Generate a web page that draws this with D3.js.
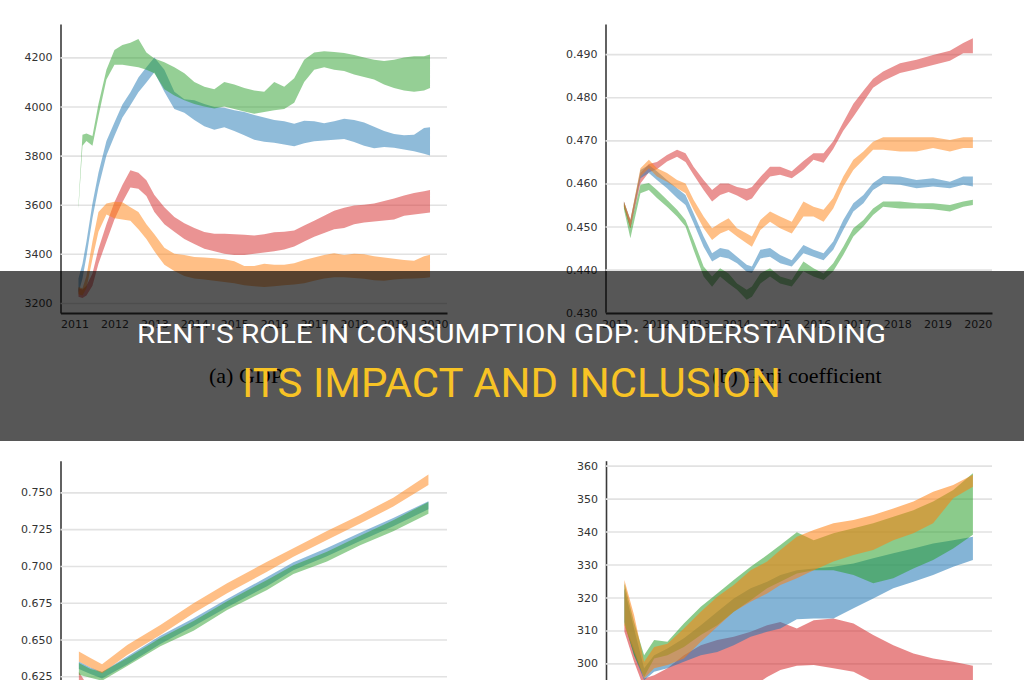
<!DOCTYPE html>
<html lang="en">
<head>
<meta charset="UTF-8">
<title>Rent's role in consumption GDP</title>
<script src="https://d3js.org/d3.v7.min.js"></script>
<style>
  * { margin: 0; padding: 0; box-sizing: border-box; }
  body { width: 1024px; height: 680px; overflow: hidden; background: #fff; }
</style>
</head>
<body>
<div id="chart"></div>
<script>
// ---------- (a) GDP ----------
const yearsA = [2011.1, 2011.2, 2011.3, 2011.45, 2011.6, 2011.8, 2012.0, 2012.2, 2012.4, 2012.6, 2012.8,
  2013.0, 2013.25, 2013.5, 2013.75, 2014.0, 2014.25, 2014.5, 2014.75, 2015.0, 2015.25, 2015.5, 2015.75,
  2016.0, 2016.25, 2016.5, 2016.75, 2017.0, 2017.25, 2017.5, 2017.75, 2018.0, 2018.25, 2018.5, 2018.75,
  2019.0, 2019.25, 2019.5, 2019.75, 2019.9];
const ticksA = [3200, 3400, 3600, 3800, 4000, 4200];
const gdpGreenLo = [3585, 3840, 3860, 3840, 3960, 4110, 4170, 4170, 4165, 4160, 4150, 4135, 4070, 4045, 4025, 4010, 4000, 3992, 4000, 3990, 3980, 3970, 3978, 3985, 3990, 4015, 4100, 4150, 4160, 4150, 4145, 4130, 4120, 4110, 4090, 4075, 4065, 4060, 4065, 4075];
const gdpGreenHi = [3600, 3885, 3890, 3880, 4010, 4150, 4230, 4250, 4260, 4275, 4220, 4195, 4180, 4160, 4135, 4100, 4080, 4070, 4100, 4090, 4075, 4065, 4060, 4100, 4080, 4115, 4190, 4220, 4225, 4222, 4218, 4210, 4200, 4190, 4185, 4190, 4200, 4205, 4205, 4212];
const gdpBlueLo = [3240, 3300, 3390, 3545, 3670, 3800, 3880, 3955, 4005, 4058, 4098, 4140, 4060, 3990, 3975, 3945, 3920, 3905, 3915, 3900, 3883, 3865, 3856, 3852, 3845, 3838, 3850, 3858, 3862, 3865, 3868, 3855, 3840, 3830, 3835, 3832, 3825, 3818, 3808, 3800];
const gdpBlueHi = [3300, 3360, 3450, 3605, 3730, 3860, 3935, 4008, 4058, 4118, 4160, 4200, 4150, 4060, 4030, 4025, 4010, 3998, 3995, 3985, 3978, 3965, 3955, 3945, 3940, 3930, 3942, 3940, 3932, 3940, 3950, 3945, 3935, 3918, 3900, 3888, 3883, 3885, 3912, 3915];
const gdpRedLo = [3225, 3220, 3230, 3270, 3360, 3450, 3540, 3610, 3670, 3665, 3635, 3570, 3520, 3490, 3460, 3440, 3421, 3410, 3400, 3395, 3395, 3400, 3405, 3410, 3418, 3430, 3450, 3470, 3485, 3500, 3505, 3520, 3528, 3532, 3536, 3540, 3555, 3560, 3565, 3568];
const gdpRedHi = [3260, 3255, 3270, 3320, 3420, 3520, 3610, 3680, 3740, 3730, 3700, 3640, 3590, 3550, 3525, 3505, 3489, 3482, 3482, 3480, 3478, 3475, 3480, 3488, 3490, 3495, 3515, 3535, 3555, 3575, 3588, 3597, 3600, 3605, 3615, 3625, 3638, 3648, 3655, 3660];
const gdpOrangeLo = [3235, 3230, 3260, 3380, 3490, 3560, 3545, 3540, 3535, 3500, 3460, 3410, 3355, 3330, 3310, 3300, 3295, 3290, 3285, 3280, 3272, 3268, 3265, 3268, 3272, 3275, 3280, 3290, 3300, 3305, 3305, 3302, 3298, 3292, 3290, 3295, 3298, 3300, 3302, 3305];
const gdpOrangeHi = [3265, 3260, 3310, 3450, 3570, 3605, 3612, 3610, 3590, 3570, 3520, 3480, 3425, 3400, 3395, 3387, 3385, 3382, 3378, 3370, 3350, 3350, 3360, 3355, 3356, 3362, 3375, 3385, 3395, 3402, 3395, 3400, 3398, 3390, 3385, 3380, 3375, 3372, 3390, 3396];

// ---------- (b) Gini coefficient ----------
const yearsB = [2011.21, 2011.37, 2011.62, 2011.83, 2012.03, 2012.28, 2012.53, 2012.74, 2012.94, 2013.19, 2013.40,
  2013.60, 2013.81, 2014.02, 2014.26, 2014.39, 2014.60, 2014.84, 2015.09, 2015.38, 2015.67, 2015.92, 2016.17,
  2016.41, 2016.66, 2016.91, 2017.16, 2017.40, 2017.65, 2018.07, 2018.48, 2018.89, 2019.31, 2019.64, 2019.88];
const ticksB = [0.430, 0.440, 0.450, 0.460, 0.470, 0.480, 0.490];
const giniRedLo = [0.4546, 0.4496, 0.4600, 0.4626, 0.4633, 0.4651, 0.4662, 0.4650, 0.4620, 0.4585, 0.4558, 0.4573, 0.4580, 0.4572, 0.4560, 0.4565, 0.4592, 0.4616, 0.4620, 0.4612, 0.4632, 0.4655, 0.4648, 0.4680, 0.4722, 0.4755, 0.4789, 0.4822, 0.4838, 0.4856, 0.4865, 0.4875, 0.4885, 0.4902, 0.4902];
const giniRedHi = [0.4558, 0.4515, 0.4624, 0.4645, 0.4650, 0.4666, 0.4678, 0.4670, 0.4639, 0.4608, 0.4585, 0.4600, 0.4600, 0.4592, 0.4587, 0.4592, 0.4615, 0.4639, 0.4639, 0.4628, 0.4652, 0.4670, 0.4670, 0.4698, 0.4742, 0.4785, 0.4815, 0.4843, 0.4860, 0.4879, 0.4887, 0.4898, 0.4908, 0.4926, 0.4937];
const giniOrangeLo = [0.4546, 0.4496, 0.4616, 0.4635, 0.4616, 0.4604, 0.4589, 0.4577, 0.4539, 0.4496, 0.4469, 0.4484, 0.4492, 0.4477, 0.4461, 0.4453, 0.4492, 0.4511, 0.4496, 0.4484, 0.4523, 0.4523, 0.4511, 0.4542, 0.4593, 0.4631, 0.4655, 0.4678, 0.4678, 0.4674, 0.4674, 0.4682, 0.4674, 0.4682, 0.4682];
const giniOrangeHi = [0.4558, 0.4515, 0.4635, 0.4655, 0.4635, 0.4624, 0.4608, 0.4600, 0.4562, 0.4523, 0.4496, 0.4508, 0.4519, 0.4496, 0.4484, 0.4477, 0.4515, 0.4535, 0.4523, 0.4511, 0.4558, 0.4546, 0.4539, 0.4566, 0.4616, 0.4655, 0.4674, 0.4697, 0.4707, 0.4707, 0.4707, 0.4707, 0.4701, 0.4707, 0.4707];
const giniBlueLo = [0.4546, 0.4496, 0.4612, 0.4624, 0.4608, 0.4589, 0.4566, 0.4550, 0.4508, 0.4453, 0.4419, 0.4430, 0.4426, 0.4415, 0.4395, 0.4392, 0.4426, 0.4430, 0.4415, 0.4407, 0.4438, 0.4430, 0.4422, 0.4446, 0.4492, 0.4535, 0.4554, 0.4585, 0.4599, 0.4597, 0.4589, 0.4593, 0.4589, 0.4597, 0.4593];
const giniBlueHi = [0.4558, 0.4515, 0.4631, 0.4643, 0.4628, 0.4608, 0.4589, 0.4573, 0.4531, 0.4477, 0.4438, 0.4450, 0.4446, 0.4430, 0.4411, 0.4407, 0.4446, 0.4450, 0.4434, 0.4422, 0.4457, 0.4446, 0.4438, 0.4465, 0.4515, 0.4554, 0.4573, 0.4601, 0.4617, 0.4616, 0.4608, 0.4612, 0.4604, 0.4616, 0.4616];
const giniGreenLo = [0.4540, 0.4473, 0.4577, 0.4585, 0.4566, 0.4546, 0.4523, 0.4500, 0.4446, 0.4384, 0.4360, 0.4384, 0.4368, 0.4353, 0.4330, 0.4337, 0.4368, 0.4384, 0.4368, 0.4361, 0.4396, 0.4384, 0.4376, 0.4396, 0.4434, 0.4477, 0.4500, 0.4527, 0.4546, 0.4542, 0.4542, 0.4540, 0.4535, 0.4546, 0.4550];
const giniGreenHi = [0.4555, 0.4500, 0.4597, 0.4601, 0.4585, 0.4562, 0.4539, 0.4515, 0.4469, 0.4407, 0.4384, 0.4403, 0.4391, 0.4368, 0.4353, 0.4361, 0.4391, 0.4403, 0.4384, 0.4376, 0.4419, 0.4403, 0.4391, 0.4415, 0.4453, 0.4496, 0.4515, 0.4542, 0.4558, 0.4558, 0.4554, 0.4554, 0.4550, 0.4558, 0.4562];

// ---------- (c) bottom left ----------
const yearsC = [2011.11, 2011.4, 2011.69, 2012.32, 2013.15, 2013.98, 2014.82, 2015.82, 2016.48, 2017.32, 2018.15, 2018.98, 2019.86];
const ticksC = [0.625, 0.650, 0.675, 0.700, 0.725, 0.750];
const cOrangeLo = [0.6350, 0.6310, 0.6270, 0.6395, 0.6531, 0.6678, 0.6814, 0.6961, 0.7063, 0.7176, 0.7289, 0.7403, 0.7550];
const cOrangeHi = [0.6418, 0.6375, 0.6332, 0.6463, 0.6599, 0.6746, 0.6882, 0.7029, 0.7120, 0.7237, 0.7346, 0.7464, 0.7622];
const cBlueLo = [0.6300, 0.6265, 0.6235, 0.6330, 0.6470, 0.6590, 0.6720, 0.6862, 0.6970, 0.7065, 0.7170, 0.7270, 0.7385];
const cBlueHi = [0.6350, 0.6310, 0.6280, 0.6385, 0.6525, 0.6645, 0.6775, 0.6925, 0.7025, 0.7122, 0.7225, 0.7325, 0.7440];
const cGreenLo = [0.6260, 0.6240, 0.6220, 0.6320, 0.6455, 0.6560, 0.6700, 0.6836, 0.6945, 0.7030, 0.7140, 0.7235, 0.7355];
const cGreenHi = [0.6340, 0.6300, 0.6280, 0.6375, 0.6510, 0.6625, 0.6760, 0.6905, 0.7005, 0.7097, 0.7205, 0.7310, 0.7435];
const yearsCRed = [2011.11, 2011.25, 2011.4];
const cRedLo = [0.618, 0.612, 0.606];
const cRedHi = [0.628, 0.622, 0.616];

// ---------- (d) bottom right ----------
const yearsD = [2011.21, 2011.45, 2011.70, 2011.95, 2012.28, 2012.69, 2013.11, 2013.52, 2013.93, 2014.35, 2014.76,
  2015.09, 2015.50, 2015.92, 2016.41, 2016.91, 2017.40, 2017.90, 2018.40, 2018.89, 2019.39, 2019.88];
const ticksD = [300, 310, 320, 330, 340, 350, 360];
const dOrangeLo = [311.6, 303.5, 295.4, 298.5, 299.5, 301.5, 306.6, 311.1, 315.7, 318.7, 321.2, 323.8, 325.8, 328.3, 330.9, 332.9, 334.4, 337.4, 339.5, 342.5, 350.1, 353.6];
const dOrangeHi = [325.3, 314.7, 300.5, 305.0, 306.0, 310.6, 315.7, 320.2, 323.8, 328.3, 330.9, 334.4, 338.4, 340.5, 342.5, 343.5, 345.0, 347.0, 349.1, 352.1, 354.1, 357.2];
const dGreenLo = [312.1, 302.5, 295.9, 301.5, 302.5, 305.0, 308.6, 311.6, 315.7, 319.2, 322.8, 324.8, 327.3, 328.3, 328.3, 326.8, 324.3, 325.8, 328.8, 331.4, 334.9, 339.0];
const dGreenHi = [324.3, 312.6, 302.5, 307.1, 306.6, 312.1, 317.2, 321.2, 325.3, 329.3, 332.9, 335.9, 339.8, 337.4, 339.5, 341.0, 342.5, 344.5, 346.5, 349.1, 352.6, 357.7];
const dBlueLo = [312.6, 302.5, 294.9, 297.5, 298.5, 300.5, 302.5, 303.5, 305.5, 308.1, 309.6, 310.6, 313.4, 313.6, 313.6, 316.7, 319.7, 322.8, 324.8, 326.8, 329.3, 331.4];
const dBlueHi = [322.7, 310.6, 298.5, 302.5, 304.5, 307.6, 311.6, 315.7, 319.7, 322.8, 324.8, 326.8, 328.3, 328.8, 329.3, 330.3, 331.9, 333.4, 334.9, 336.4, 337.4, 338.4];
const dRedLo = [309.6, 300.5, 292.4, 292.4, 292.4, 292.4, 292.4, 292.4, 292.4, 292.4, 295.9, 298.0, 299.3, 299.5, 298.5, 297.5, 294.4, 292.4, 292.4, 292.4, 292.4, 292.4];
const dRedHi = [312.1, 304.5, 295.4, 296.4, 298.5, 302.5, 305.5, 307.1, 308.1, 309.6, 311.6, 312.6, 310.6, 313.1, 313.6, 312.1, 308.6, 305.5, 303.0, 301.5, 300.5, 299.3];

const xYears = [2011, 2012, 2013, 2014, 2015, 2016, 2017, 2018, 2019, 2020];
const captions = ["(a) GDP", "(b) Gini coefficient"];
const titleLine1 = "RENT'S ROLE IN CONSUMPTION GDP: UNDERSTANDING";
const titleLine2 = "ITS IMPACT AND INCLUSION";

const C = { blue: "#1f77b4", orange: "#ff7f0e", green: "#2ca02c", red: "#d62728" };

const svg = d3.select("#chart").append("svg")
    .attr("width", 1024)
    .attr("height", 680)
    .style("display", "block");

// one panel = grid + bands + axis lines
function drawPanel(p) {
    const g = svg.append("g");
    const x = d3.scaleLinear().domain(p.xDomain).range([p.left, p.right]);
    const y = d3.scaleLinear().domain(p.yDomain).range([p.bottom, p.top]);

    g.append("g")
        .attr("transform", `translate(${p.left},0)`)
        .call(d3.axisLeft(y)
            .tickValues(p.ticks)
            .tickSize(-(p.right - p.left))
            .tickSizeOuter(0)
            .tickPadding(8)
            .tickFormat(d3.format(p.fmt)))
        .call(a => {
            a.select(".domain").attr("stroke", "#3a3a3a").attr("stroke-width", 1.6);
            a.selectAll(".tick line").attr("stroke", "#e2e2e2").attr("stroke-width", 1.6);
            a.selectAll(".tick text")
                .attr("fill", "#333")
                .style("font-family", "'DejaVu Sans', sans-serif")
                .style("font-size", "11px");
        });

    p.bands.forEach(b => {
        const yrs = b.years || p.years;
        const pts = yrs.map((yr, i) => ({ yr, lo: b.lo[i], hi: b.hi[i] }));
        g.append("path")
            .datum(pts)
            .attr("d", d3.area().x(d => x(d.yr)).y0(d => y(d.lo)).y1(d => y(d.hi)))
            .attr("fill", b.color)
            .attr("fill-opacity", p.alpha);
    });

    if (p.showX) {
        g.append("g")
            .attr("transform", `translate(0,${p.bottom})`)
            .call(d3.axisBottom(x)
                .tickValues(xYears)
                .tickSize(0)
                .tickSizeOuter(0)
                .tickPadding(7)
                .tickFormat(d3.format("d")))
            .call(a => {
                a.select(".domain").attr("stroke", "#3a3a3a").attr("stroke-width", 1.8);
                a.selectAll(".tick text")
                    .attr("fill", "#333")
                    .style("font-family", "'DejaVu Sans', sans-serif")
                    .style("font-size", "11px");
            });
    }
}

drawPanel({
    left: 60.5, right: 447, top: 24, bottom: 313,
    xDomain: [2010.65, 2020.325], yDomain: [3159, 4336],
    ticks: ticksA, fmt: "d", years: yearsA, alpha: 0.5, showX: true,
    bands: [
        { color: C.red, lo: gdpRedLo, hi: gdpRedHi },
        { color: C.blue, lo: gdpBlueLo, hi: gdpBlueHi },
        { color: C.green, lo: gdpGreenLo, hi: gdpGreenHi },
        { color: C.orange, lo: gdpOrangeLo, hi: gdpOrangeHi }
    ]
});

drawPanel({
    left: 605.5, right: 992, top: 24, bottom: 313,
    xDomain: [2010.752, 2020.355], yDomain: [0.42993, 0.4970],
    ticks: ticksB, fmt: ".3f", years: yearsB, alpha: 0.5, showX: true,
    bands: [
        { color: C.red, lo: giniRedLo, hi: giniRedHi },
        { color: C.blue, lo: giniBlueLo, hi: giniBlueHi },
        { color: C.green, lo: giniGreenLo, hi: giniGreenHi },
        { color: C.orange, lo: giniOrangeLo, hi: giniOrangeHi }
    ]
});

drawPanel({
    left: 60.5, right: 447, top: 460.7, bottom: 700,
    xDomain: [2010.65, 2020.325], yDomain: [0.6089, 0.7715],
    ticks: ticksC, fmt: ".3f", years: yearsC, alpha: 0.5, showX: false,
    bands: [
        { color: C.red, lo: cRedLo, hi: cRedHi, years: yearsCRed },
        { color: C.blue, lo: cBlueLo, hi: cBlueHi },
        { color: C.green, lo: cGreenLo, hi: cGreenHi },
        { color: C.orange, lo: cOrangeLo, hi: cOrangeHi }
    ]
});

drawPanel({
    left: 606, right: 992, top: 460.7, bottom: 700,
    xDomain: [2010.752, 2020.355], yDomain: [288.9, 361.5],
    ticks: ticksD, fmt: "d", years: yearsD, alpha: 0.55, showX: false,
    bands: [
        { color: C.red, lo: dRedLo, hi: dRedHi },
        { color: C.blue, lo: dBlueLo, hi: dBlueHi },
        { color: C.green, lo: dGreenLo, hi: dGreenHi },
        { color: C.orange, lo: dOrangeLo, hi: dOrangeHi }
    ]
});

// sub-figure captions (serif, under the banner)
svg.selectAll(".caption")
    .data(captions)
    .join("text")
    .attr("class", "caption")
    .attr("x", (d, i) => i === 0 ? 246 : 797)
    .attr("y", 383)
    .attr("text-anchor", "middle")
    .style("font-family", "'Liberation Serif', 'Times New Roman', serif")
    .style("font-size", "22px")
    .attr("fill", "#000")
    .text(d => d);

// dark banner with the title
svg.append("rect")
    .attr("x", 0).attr("y", 271)
    .attr("width", 1024).attr("height", 170)
    .attr("fill", "#000")
    .attr("fill-opacity", 0.66);

svg.append("text")
    .attr("x", 511.5).attr("y", 343)
    .attr("text-anchor", "middle")
    .attr("textLength", 749)
    .attr("lengthAdjust", "spacingAndGlyphs")
    .style("font-family", "Roboto, 'Open Sans', sans-serif")
    .style("font-size", "25px")
    .attr("fill", "#fff")
    .text(titleLine1);

svg.append("text")
    .attr("x", 511.5).attr("y", 397)
    .attr("text-anchor", "middle")
    .attr("textLength", 539)
    .attr("lengthAdjust", "spacingAndGlyphs")
    .style("font-family", "Roboto, 'Open Sans', sans-serif")
    .style("font-size", "41px")
    .attr("fill", "#f7c325")
    .text(titleLine2);
</script>
</body>
</html>
